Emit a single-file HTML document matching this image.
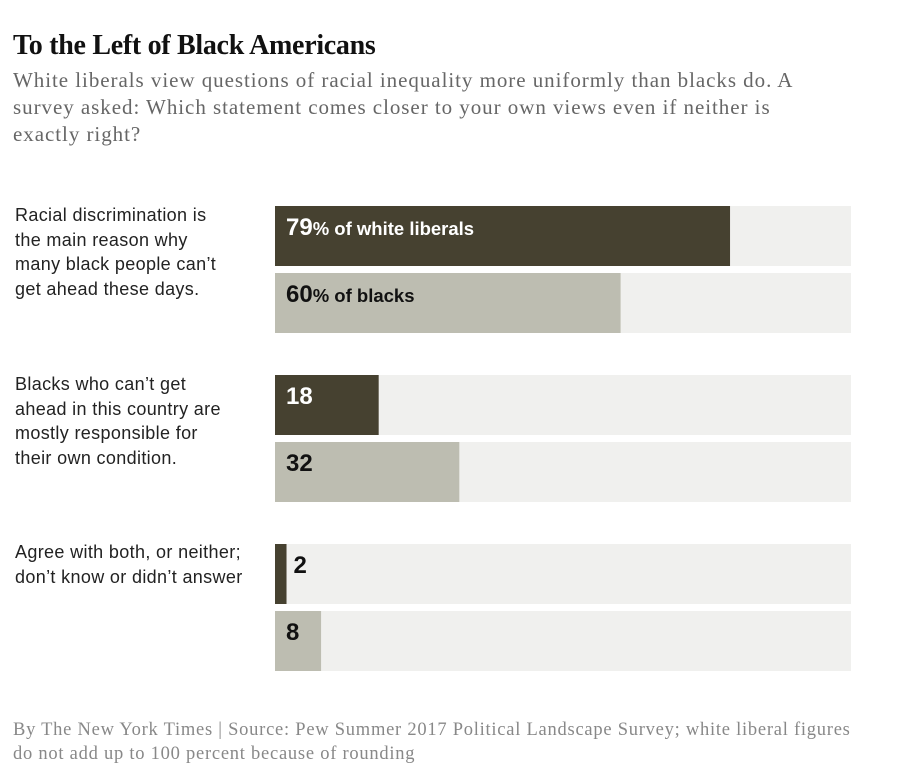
<!DOCTYPE html>
<html><head><meta charset="utf-8"><style>
body{margin:0;background:#fff;width:901px;height:775px;overflow:hidden;font-family:"Liberation Sans",sans-serif}
#title{position:absolute;left:13px;top:30px;font-family:"Liberation Serif",serif;font-weight:bold;font-size:28px;color:#111;letter-spacing:-0.3px}
#sub{position:absolute;left:13px;top:67px;width:820px;font-family:"Liberation Serif",serif;font-size:21px;line-height:27px;color:#666;letter-spacing:0.95px}
.q{position:absolute;left:15px;width:260px;font-size:18px;line-height:24.5px;color:#222;letter-spacing:0.35px}
#foot{position:absolute;left:13px;top:718px;width:880px;font-family:"Liberation Serif",serif;font-size:18.5px;line-height:24px;color:#888;letter-spacing:0.75px}
svg{position:absolute;left:0;top:0}
</style></head><body>
<div id="title">To the Left of Black Americans</div>
<div id="sub">White liberals view questions of racial inequality more uniformly than blacks do. A<br>survey asked: Which statement comes closer to your own views even if neither is<br>exactly right?</div>
<div class="q" style="top:203px">Racial discrimination is<br>the main reason why<br>many black people can’t<br>get ahead these days.</div>
<div class="q" style="top:372px">Blacks who can’t get<br>ahead in this country are<br>mostly responsible for<br>their own condition.</div>
<div class="q" style="top:540px">Agree with both, or neither;<br>don’t know or didn’t answer</div>
<svg id="chart" width="901" height="775"></svg>
<div id="foot">By The New York Times | Source: Pew Summer 2017 Political Landscape Survey; white liberal figures<br>do not add up to 100 percent because of rounding</div>
<script>
const categories=["discrimination","responsible","neither"];
const whiteLiberals=[79,18,2];
const blacks=[60,32,8];
const suffixWhite=["% of white liberals","",""];
const suffixBlack=["% of blacks","",""];
const svg=document.getElementById('chart');
const NS='http://www.w3.org/2000/svg';
const x0=275,W=576;
function xs(v){return v/100*W;}
function rowY(g,s){return 206+g*169+s*67;}
function mk(t,a){const e=document.createElementNS(NS,t);for(const k in a)e.setAttribute(k,a[k]);svg.appendChild(e);return e;}
categories.forEach((c,g)=>{
 [[whiteLiberals,suffixWhite,'#464130','#fff','white'],[blacks,suffixBlack,'#bdbdb1','#111','black']].forEach(([vals,suf,col,tc,nm],s)=>{
  const y=rowY(g,s);
  const bg=mk('rect',{x:x0,y:y,width:W,height:60,fill:'#f0f0ee'});
  
  
  const r=mk('rect',{x:x0,y:y,width:xs(vals[g]),height:60,fill:col});
  
  
  const inside=xs(vals[g])>30;
  const t=mk('text',{x:inside?x0+11:x0+xs(vals[g])+7,y:y+29,fill:inside?tc:'#111','font-weight':'bold','font-size':24,'font-family':'Liberation Sans, sans-serif'});
  
  
  t.textContent=vals[g];
  if(suf[g]){const ts=document.createElementNS(NS,'tspan');ts.setAttribute('font-size','18.5');ts.setAttribute('font-family','Liberation Sans Narrow, Liberation Sans, sans-serif');ts.textContent=suf[g];t.appendChild(ts);}
 });
});
</script>
</body></html>
